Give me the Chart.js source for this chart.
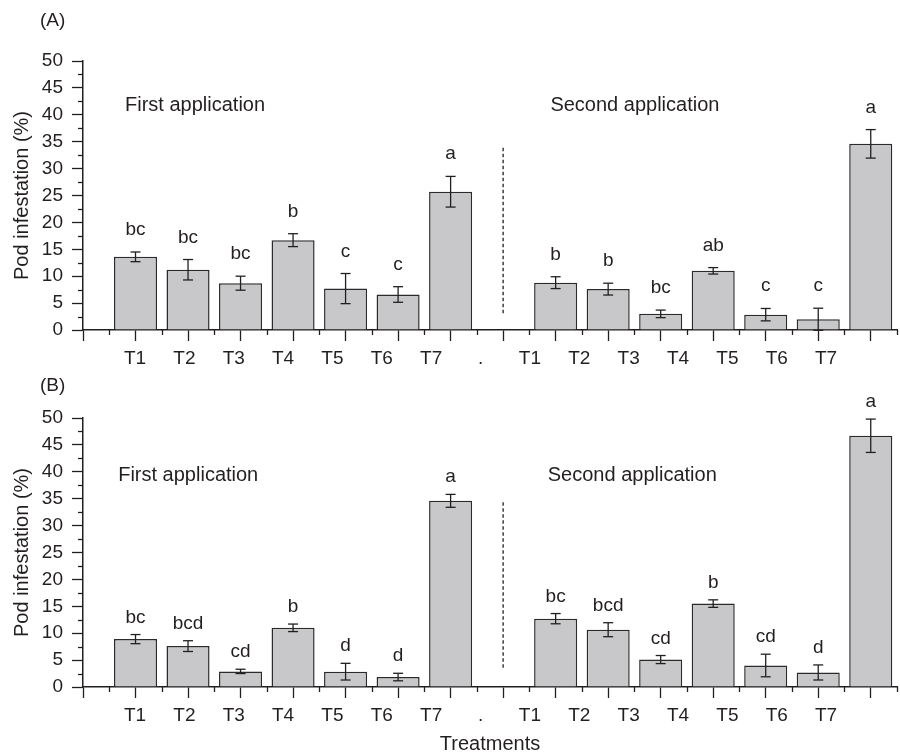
<!DOCTYPE html>
<html lang="en">
<head>
<meta charset="UTF-8" />
<title>Pod infestation</title>
<script src="https://cdn.jsdelivr.net/npm/chart.js"></script>
<style>
    body {
        margin: 0;
        background: #fff;
        color: #231f20;
        font-family: 'Liberation Sans', Arial, sans-serif;
    }
    .wrap { position: relative; width: 900px; height: 756px; }
    .panel { position: absolute; left: 0; width: 900px; }
    .tag { position: absolute; left: 40px; font-size: 19px; line-height: 22px; }
</style>
</head>
<body>
<div class="wrap">
    <div class="panel" style="top:0;height:372px"><canvas id="chartA" width="900" height="372"></canvas></div>
    <div class="panel" style="top:372px;height:384px"><canvas id="chartB" width="900" height="384"></canvas></div>
    <div class="tag" style="top:9px">(A)</div>
    <div class="tag" style="top:374px">(B)</div>
</div>

<script>
    // treatments and tick labels
    const treatments = ['T1', 'T2', 'T3', 'T4', 'T5', 'T6', 'T7'];
    const axisLabels = ['T1', 'T2', 'T3', 'T4', 'T5', 'T6', 'T7', '.', 'T1', 'T2', 'T3', 'T4', 'T5', 'T6', 'T7'];
    const yMax = 50;
    const yStep = 5;

    // panel A
    const firstA = [13.6, 11.2, 8.7, 16.7, 7.7, 6.6, 25.7];
    const firstAErr = [0.9, 1.9, 1.3, 1.2, 2.8, 1.45, 2.85];
    const firstALetters = ['bc', 'bc', 'bc', 'b', 'c', 'c', 'a'];
    const secondA = [8.8, 7.6, 3.0, 11.0, 2.85, 2.0, 34.6];
    const secondAErr = [1.1, 1.1, 0.7, 0.6, 1.15, 2.05, 2.65];
    const secondALetters = ['b', 'b', 'bc', 'ab', 'c', 'c', 'a'];

    // panel B
    const firstB = [8.9, 7.6, 2.9, 11.0, 2.85, 1.85, 34.6];
    const firstBErr = [0.85, 1.0, 0.4, 0.7, 1.55, 0.7, 1.2];
    const firstBLetters = ['bc', 'bcd', 'cd', 'b', 'd', 'd', 'a'];
    const secondB = [12.7, 10.65, 5.1, 15.5, 4.0, 2.7, 46.7];
    const secondBErr = [0.95, 1.3, 0.75, 0.7, 2.1, 1.4, 3.1];
    const secondBLetters = ['bc', 'bcd', 'cd', 'b', 'cd', 'd', 'a'];

    const ink = '#231f20';
    const font = "'Liberation Sans', Arial, sans-serif";
    const xMax = 15.5;          // axis runs half a slot past the last bar
    const secondStart = 9;      // second application starts after an empty slot
    const labelStart = 0.99;    // tick labels in the original drift from the bars
    const labelStep = 0.94;

    // draws error bars, letters, minor ticks, the divider and the notes
    const extras = {
        id: 'extras',
        afterDatasetsDraw(chart, args, opts) {
            const { ctx } = chart;
            const x = chart.scales.x, y = chart.scales.y;
            const pts = chart.data.datasets[0].data;
            const line = (x1, y1, x2, y2) => {
                ctx.beginPath(); ctx.moveTo(x1, y1); ctx.lineTo(x2, y2); ctx.stroke();
            };
            ctx.save();
            ctx.strokeStyle = ink;
            ctx.fillStyle = ink;
            ctx.lineWidth = 1.3;

            // minor ticks
            for (let v = yStep / 2; v < yMax; v += yStep) {
                const py = Math.round(y.getPixelForValue(v)) + 0.5;
                line(y.right - 5, py, y.right, py);
            }
            for (let v = 0.5; v <= xMax; v += 1) {
                const px = Math.round(x.getPixelForValue(v)) + 0.5;
                line(px, x.top, px, x.top + 5);
            }

            // error bars + letters
            ctx.font = '19px ' + font;
            ctx.textAlign = 'center';
            ctx.textBaseline = 'alphabetic';
            chart.getDatasetMeta(0).data.forEach((bar, i) => {
                const v = pts[i].y, e = opts.errors[i];
                const top = y.getPixelForValue(v + e);
                const bot = y.getPixelForValue(v - e);
                line(bar.x, top, bar.x, bot);
                line(bar.x - 5, top, bar.x + 5, top);
                line(bar.x - 5, bot, bar.x + 5, bot);
                ctx.fillText(opts.letters[i], bar.x, top - opts.letterGap);
            });

            // dashed divider between applications
            ctx.setLineDash([3.5, 2.5]);
            const dx = x.getPixelForValue(secondStart - 1);
            line(dx, y.getPixelForValue(opts.divider[0]), dx, y.getPixelForValue(opts.divider[1]));
            ctx.setLineDash([]);

            // notes
            ctx.font = '20px ' + font;
            ctx.textAlign = 'left';
            ctx.textBaseline = 'middle';
            opts.notes.forEach(n => {
                ctx.fillText(n.text, x.getPixelForValue(n.x), y.getPixelForValue(n.y));
            });
            ctx.restore();
        }
    };

    function makePanel(id, cfg) {
        const points = [];
        cfg.first.forEach((v, i) => points.push({ x: i + 1, y: v }));
        cfg.second.forEach((v, i) => points.push({ x: i + secondStart, y: v }));
        const errors = cfg.firstErr.concat(cfg.secondErr);
        const letters = cfg.firstLetters.concat(cfg.secondLetters);

        return new Chart(document.getElementById(id), {
            type: 'bar',
            data: {
                datasets: [{
                    data: points,
                    backgroundColor: '#c8c8ca',
                    borderColor: '#2b2b2b',
                    borderWidth: 1.5,
                    barPercentage: 0.82,
                    categoryPercentage: 1
                }]
            },
            options: {
                responsive: false,
                animation: false,
                layout: { padding: { top: cfg.padTop, right: 3, left: 0, bottom: 0 } },
                plugins: {
                    legend: { display: false },
                    tooltip: { enabled: false },
                    extras: {
                        errors: errors,
                        letters: letters,
                        letterGap: cfg.letterGap,
                        divider: cfg.divider,
                        notes: cfg.notes
                    }
                },
                scales: {
                    x: {
                        type: 'linear',
                        min: 0,
                        max: xMax,
                        offset: false,
                        weight: 0,
                        ticks: { display: false, stepSize: 1, includeBounds: false },
                        grid: { offset: false, drawOnChartArea: false, tickLength: 11, tickColor: ink, tickWidth: 1.3 },
                        border: { color: ink, width: 1.5 },
                        afterFit: s => { s.height = 11; }
                    },
                    xl: {
                        type: 'linear',
                        position: 'bottom',
                        min: 0,
                        max: xMax,
                        offset: false,
                        weight: 1,
                        grid: { display: false, drawTicks: false, offset: false },
                        border: { display: false },
                        ticks: {
                            autoSkip: false,
                            maxRotation: 0,
                            padding: 6,
                            color: ink,
                            font: { family: font, size: 19 },
                            callback: (v, i) => axisLabels[i]
                        },
                        afterBuildTicks: s => {
                            s.ticks = axisLabels.map((l, i) => ({ value: labelStart + i * labelStep }));
                        },
                        title: {
                            display: cfg.showTitle,
                            text: 'Treatments',
                            color: ink,
                            font: { family: font, size: 20 },
                            padding: { top: 0, bottom: 0 }
                        },
                        afterFit: s => { s.height = cfg.xlHeight; }
                    },
                    y: {
                        min: 0,
                        max: yMax,
                        ticks: {
                            stepSize: yStep,
                            padding: 9,
                            color: ink,
                            font: { family: font, size: 19 }
                        },
                        grid: { drawOnChartArea: false, tickLength: 11, tickColor: ink, tickWidth: 1.3 },
                        border: { color: ink, width: 1.5 },
                        title: {
                            display: true,
                            text: 'Pod infestation (%)',
                            color: ink,
                            font: { family: font, size: 20 },
                            padding: { top: 10, bottom: 0 }
                        },
                        afterFit: s => { s.width = 83; }
                    }
                }
            },
            plugins: [extras]
        });
    }

    makePanel('chartA', {
        first: firstA, firstErr: firstAErr, firstLetters: firstALetters,
        second: secondA, secondErr: secondAErr, secondLetters: secondALetters,
        padTop: 61, xlHeight: 31, showTitle: false, letterGap: 17,
        divider: [3.1, 34.1],
        notes: [
            { text: 'First application', x: 0.8, y: 41.8 },
            { text: 'Second application', x: 8.9, y: 41.8 }
        ]
    });

    makePanel('chartB', {
        first: firstB, firstErr: firstBErr, firstLetters: firstBLetters,
        second: secondB, secondErr: secondBErr, secondLetters: secondBLetters,
        padTop: 46, xlHeight: 58, showTitle: true, letterGap: 12,
        divider: [3.6, 34.6],
        notes: [
            { text: 'First application', x: 0.67, y: 39.4 },
            { text: 'Second application', x: 8.85, y: 39.4 }
        ]
    });
</script>
</body>
</html>
